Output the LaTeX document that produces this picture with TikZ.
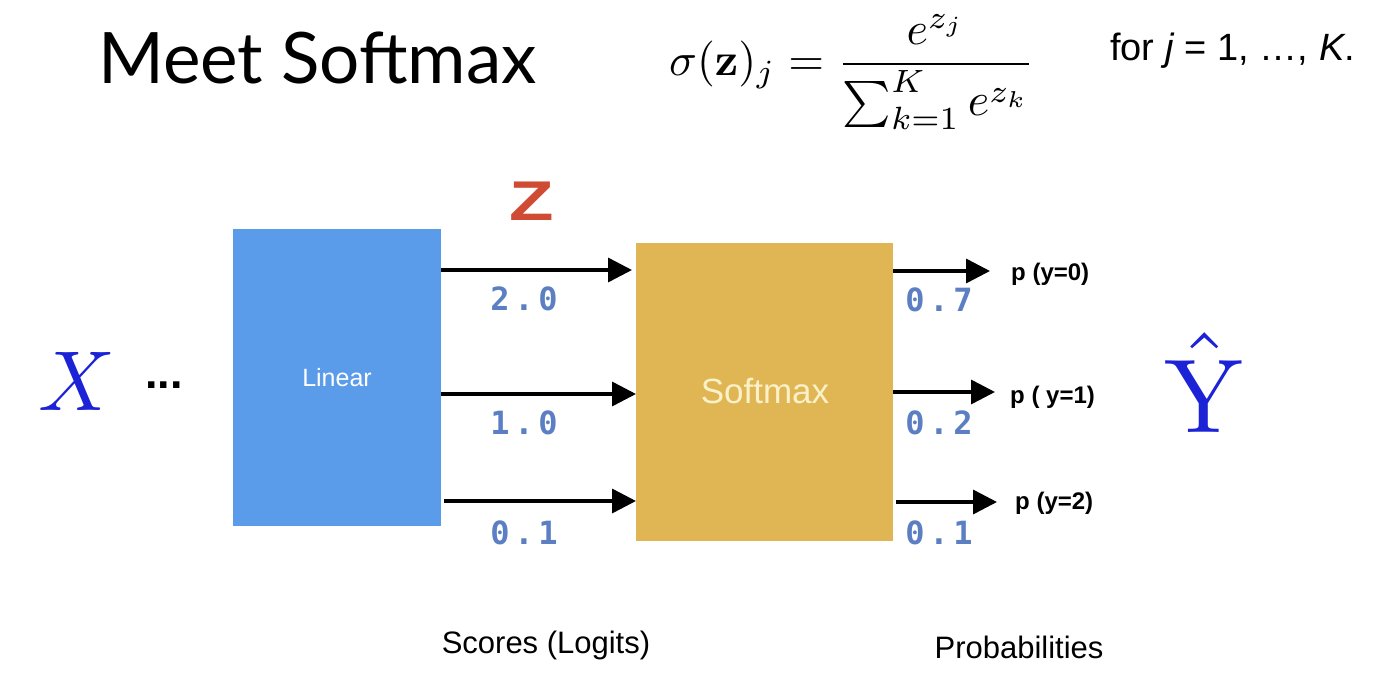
\documentclass[tikz,border=0pt]{standalone}
\usepackage[no-math]{fontspec}
\setmainfont{Liberation Sans}
\newfontfamily\titlefont{Lato}
\newfontfamily\numfont[LetterSpace=15]{DejaVu Sans Mono}
\usetikzlibrary{arrows.meta}
\definecolor{linblue}{HTML}{5A9BEA}
\definecolor{softgold}{HTML}{E0B655}
\definecolor{numblue}{HTML}{5B7FC2}
\definecolor{zred}{HTML}{CF4B33}
\definecolor{xblue}{HTML}{1C22D6}
\definecolor{cream}{HTML}{FBF1C8}
\tikzset{
  box/.style={inner sep=0pt, outer sep=0pt},
  flow/.style={line width=3.5pt, -{Triangle[length=24pt,width=24pt]}},
  num/.style={text=numblue, font=\fontsize{32}{36}\selectfont\numfont\bfseries, inner sep=0pt},
  plabel/.style={font=\fontsize{24}{28}\selectfont\bfseries, anchor=west, inner sep=0pt},
  caption/.style={font=\fontsize{31}{36}\selectfont, inner sep=0pt},
}
\begin{document}
\begin{tikzpicture}[x=1pt,y=-1pt]
\useasboundingbox (0,0) rectangle (1388,677);
% title and formula
\node[anchor=base west, inner sep=0pt, font=\fontsize{71}{78}\selectfont\titlefont] (title) at (98,83) {Meet Softmax};
\node[inner sep=0pt, scale=4.6, transform shape] (formula) at (852,72)
  {$\displaystyle \sigma(\mathbf{z})_j = \frac{e^{z_j}}{\sum_{k=1}^{K} e^{z_k}}$};
\node[anchor=base west, inner sep=0pt, font=\fontsize{38}{42}\selectfont] (forj) at (1110,60) {for \textit{j} = 1, \dots, \textit{K}.};
% Z
\node[text=zred, font=\fontsize{56}{60}\selectfont\bfseries, inner sep=0pt] (z) at (532,201) {\scalebox{1.3}[1]{Z}};
% boxes
\node[box, fill=linblue, minimum width=208pt, minimum height=297pt] (lin) at (337,377.5) {};
\node[text=white, font=\fontsize{25}{28}\selectfont] (lintext) at (337,378) {Linear};
\node[box, fill=softgold, minimum width=257pt, minimum height=298pt] (soft) at (764.5,392) {};
\node[text=cream, font=\fontsize{35}{38}\selectfont] (softtext) at (765,391) {Softmax};
% X and dots
\node[anchor=base, inner sep=0pt, text=xblue, scale=8.5, transform shape] (x) at (77,410) {$X$};
\node[anchor=base, inner sep=0pt, font=\fontsize{45}{50}\selectfont\bfseries] (dots) at (164,388) {...};
% left arrows
\coordinate (l1) at (632,270);
\coordinate (l2) at (636,394);
\coordinate (l3) at (636,501);
\draw[flow] (lin.east |- l1) -- (l1);
\draw[flow] (lin.east |- l2) -- (l2);
\draw[flow] ([xshift=3pt]lin.east |- l3) -- (l3);
\node[num] (n1) at (524,299) {2.0};
\node[num] (n2) at (524,423) {1.0};
\node[num] (n3) at (524,533) {0.1};
% right labels
\node[plabel] (p0) at (1011,274) {p (y=0)};
\node[plabel] (p1) at (1010,397) {p ( y=1)};
\node[plabel] (p2) at (1015,503) {p (y=2)};
\coordinate (r1) at (990,271);
\coordinate (r2) at (995,392);
\coordinate (r3) at (997,502);
\draw[flow] (soft.east |- r1) -- (r1);
\draw[flow] (soft.east |- r2) -- (r2);
\draw[flow] ([xshift=3pt]soft.east |- r3) -- (r3);
\node[num] (m1) at (939,300) {0.7};
\node[num] (m2) at (939,423) {0.2};
\node[num] (m3) at (939,533) {0.1};
% Y hat
\node[anchor=base, inner sep=0pt, text=xblue, scale=10.5, transform shape] (yhat) at (1205,432) {$\hat{\mathrm{Y}}$};
% captions
\node[caption] (scores) at (546,645) {Scores (Logits)};
\node[caption] (probs) at (1019,647) {Probabilities};
\end{tikzpicture}
\end{document}
